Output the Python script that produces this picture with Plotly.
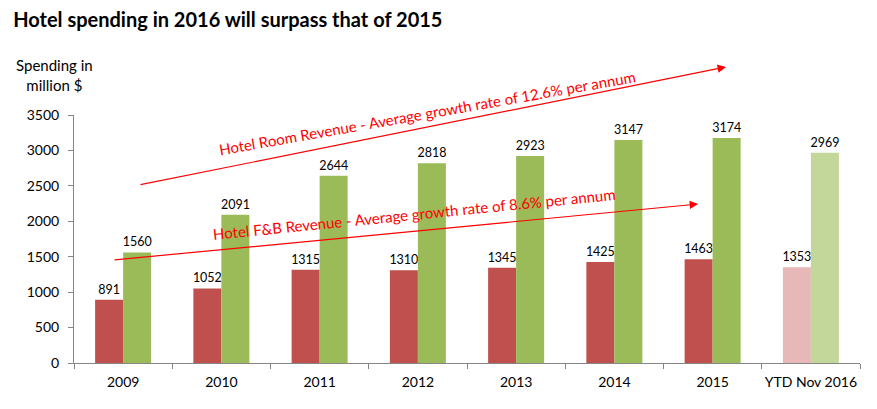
import plotly.graph_objects as go

categories = ["2009", "2010", "2011", "2012", "2013", "2014", "2015", "YTD Nov 2016"]
fb_revenue = [891, 1052, 1315, 1310, 1345, 1425, 1463, 1353]
room_revenue = [1560, 2091, 2644, 2818, 2923, 3147, 3174, 2969]
y_ticks = [0, 500, 1000, 1500, 2000, 2500, 3000, 3500]

# last group (YTD) is drawn in lighter tints
fb_colors = ["#C0504D"] * 7 + ["#E6B9B8"]
room_colors = ["#9BBB59"] * 7 + ["#C4D79B"]

FONT = "Lato"
RED = "#FF0000"

fig = go.Figure()
fig.add_trace(go.Bar(
    x=categories, y=fb_revenue, name="Hotel F&B Revenue",
    marker=dict(color=fb_colors, line=dict(width=0)),
    text=fb_revenue, textposition="outside", cliponaxis=False,
    constraintext="none",
    textfont=dict(size=12.5, color="black", family=FONT),
))
fig.add_trace(go.Bar(
    x=categories, y=room_revenue, name="Hotel Room Revenue",
    marker=dict(color=room_colors, line=dict(width=0)),
    text=room_revenue, textposition="outside", cliponaxis=False,
    constraintext="none",
    textfont=dict(size=12.5, color="black", family=FONT),
))

fig.update_layout(
    width=877, height=409,
    margin=dict(l=74, r=17, t=115, b=46, autoexpand=False),
    paper_bgcolor="white", plot_bgcolor="white",
    barmode="group", bargap=0.43, bargroupgap=0,
    showlegend=False,
    font=dict(family=FONT, color="black", size=14),
    title=dict(
        text="<b>Hotel spending in 2016 will surpass that of 2015</b>",
        x=0.015, xref="container", xanchor="left",
        y=0.95, yref="container", yanchor="middle",
        font=dict(size=20, family=FONT, color="black"),
    ),
)

fig.update_xaxes(
    showline=True, linecolor="#868686", linewidth=1,
    ticks="outside", tickson="boundaries", ticklen=5, tickcolor="#868686",
    showgrid=False, tickfont=dict(size=14, family=FONT),
    tickangle=0, automargin=False, ticklabelstandoff=6,
)
fig.update_yaxes(
    range=[0, 3500], tickvals=y_ticks,
    showline=True, linecolor="#868686", linewidth=1,
    ticks="outside", ticklen=5, tickcolor="#868686",
    showgrid=False, zeroline=False, tickfont=dict(size=14, family=FONT),
    ticklabelstandoff=6, automargin=False,
)

# y axis title
fig.add_annotation(
    text="Spending in<br>million $", xref="paper", yref="paper",
    x=-0.025, y=1.162, xanchor="center", yanchor="middle",
    showarrow=False, align="center",
    font=dict(size=15, family=FONT),
)

# growth arrows (head position in paper coords, tail offset in pixels)
fig.add_annotation(
    xref="paper", yref="paper", x=0.8295, y=1.1935,
    ax=-587, ay=118, axref="pixel", ayref="pixel",
    text="", showarrow=True, arrowcolor=RED, arrowwidth=1.2,
    arrowhead=2, arrowsize=1.4,
)
fig.add_annotation(
    xref="paper", yref="paper", x=0.794, y=0.641,
    ax=-585, ay=56, axref="pixel", ayref="pixel",
    text="", showarrow=True, arrowcolor=RED, arrowwidth=1.2,
    arrowhead=2, arrowsize=1.4,
)

fig.add_annotation(
    text="Hotel Room Revenue - Average growth rate of 12.6% per annum",
    xref="paper", yref="paper", x=0.4485, y=1.008,
    xanchor="center", yanchor="middle",
    showarrow=False, textangle=-10,
    font=dict(size=15, family=FONT, color=RED),
)
fig.add_annotation(
    text="Hotel F&B Revenue - Average growth rate of 8.6% per annum",
    xref="paper", yref="paper", x=0.432, y=0.601,
    xanchor="center", yanchor="middle",
    showarrow=False, textangle=-5.7,
    font=dict(size=15, family=FONT, color=RED),
)

# drop the browser's default body margin so the figure sits at the page corner
fig.write_html(
    "out.html",
    config={"displayModeBar": False},
    post_script="document.body.style.margin = '0';",
)
